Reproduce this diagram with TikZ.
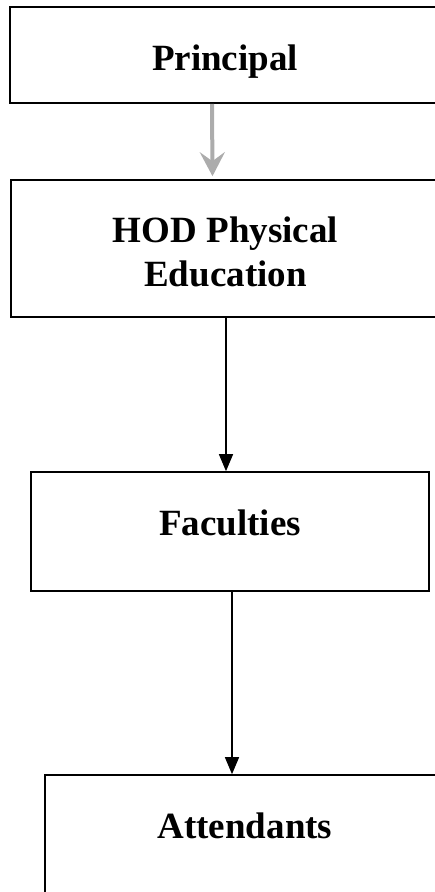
\documentclass[tikz,border=0pt]{standalone}
\usepackage{fontspec}
\setmainfont{Liberation Serif}
\usetikzlibrary{arrows.meta}
\tikzstyle{post}=[draw, line width=1.6pt, inner sep=0pt]
\tikzstyle{post label}=[font=\fontsize{37}{44}\selectfont\bfseries, align=center, anchor=base]
\tikzstyle{report}=[line width=1.3pt, -{Triangle[length=17pt, width=14pt]}]
\tikzstyle{gray report}=[draw=gray!65, line width=4pt, -{Stealth[length=24pt, width=25pt, inset=9pt]}]

\begin{document}
\begin{tikzpicture}[x=1pt, y=-1pt]
          \useasboundingbox (0, 0) rectangle (434, 892);

          \node[post, minimum width=430pt, minimum height=96pt] (principal) at (225, 55) {};
          \node[post, minimum width=429pt, minimum height=137pt] (hod) at (225.5, 248.5) {};
          \node[post, minimum width=398pt, minimum height=119pt] (faculties) at (230, 531.5) {};
          \node[post, minimum width=395pt, minimum height=117.5pt] (attendants) at (242.5, 833.75) {};

          \node[post label] (principal text) at ([yshift=-15pt]principal.center) {Principal};
          \node[post label, anchor=center] (hod text) at ([yshift=-3pt]hod.center) {HOD Physical\\Education};
          \node[post label] (faculties text) at ([yshift=-3.5pt]faculties.center) {Faculties};
          \node[post label] (attendants text) at ([xshift=2.5pt, yshift=-4.25pt]attendants.center) {Attendants};

          \draw[gray report] ([xshift=-13pt]principal.south) -- ([xshift=-13pt, yshift=3pt]hod.north);
          \draw[report] ([xshift=0.5pt]hod.south) -- ([xshift=0.5pt]hod.south |- faculties.north);
          \draw[report] ([xshift=2pt]faculties.south) -- ([xshift=2pt]faculties.south |- attendants.north);

          % \draw[help lines] (0, 0) grid[step=50] (434, 892);
        \end{tikzpicture}
\end{document}
